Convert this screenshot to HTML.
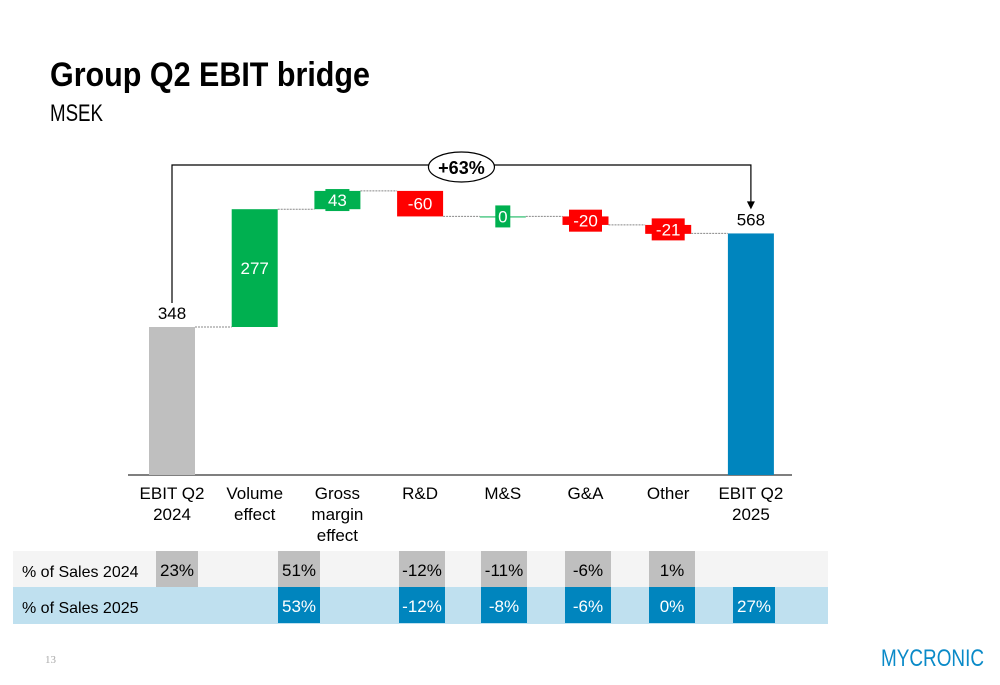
<!DOCTYPE html>
<html><head><meta charset="utf-8"><style>
body{margin:0;background:#fff;}
svg{display:block;font-family:"Liberation Sans Narrow","Liberation Sans",sans-serif;}
</style></head><body>
<svg id="c" width="1000" height="685" viewBox="0 0 1000 685">
<text x="50" y="86" font-family="Liberation Sans, sans-serif" font-weight="bold" font-size="34" textLength="320" lengthAdjust="spacingAndGlyphs">Group Q2 EBIT bridge</text>
<text x="50" y="121" font-size="24" textLength="53" lengthAdjust="spacingAndGlyphs">MSEK</text>
<g id="plot"></g>
<g id="table"></g>
<text x="45" y="663" font-size="11" fill="#aaa" font-family="Liberation Serif, serif">13</text>
<text x="984" y="666" text-anchor="end" font-size="24" fill="#0a8ac8" textLength="103" lengthAdjust="spacingAndGlyphs">MYCRONIC</text>
</svg>
<script>
const categories=[["EBIT Q2","2024"],["Volume","effect"],["Gross","margin","effect"],["R&D"],["M&S"],["G&A"],["Other"],["EBIT Q2","2025"]];
const values=[348,277,43,-60,0,-20,-21,568];
const totalFlags=[true,false,false,false,false,false,false,true];
const sales2024=["23%",null,"51%","-12%","-11%","-6%","1%",null];
const sales2025=[null,null,"53%","-12%","-8%","-6%","0%","27%"];
const growthLabel="+63%";
const NS="http://www.w3.org/2000/svg";
function mk(t,a,p){const e=document.createElementNS(NS,t);for(const k in a)e.setAttribute(k,a[k]);p.appendChild(e);return e;}
const base=475,scale=148/348;
const y=v=>base-v*scale;
const x0=172,step=82.7,bw=46;
const xc=i=>x0+i*step;
const plot=document.getElementById('plot'),table=document.getElementById('table');
// axis
let ax=mk('line',{x1:128,x2:792,y1:base,y2:base,stroke:'#555','stroke-width':1.5},plot);


let cum=0,prevTop=null;
values.forEach((v,i)=>{
  let lo,hi,color;
  if(totalFlags[i]){lo=0;hi=(i===0?v:cum);if(i>0)hi=v;color=i===0?'#bfbfbf':'#0085be';cum=(i===0?v:cum);}
  else{lo=Math.min(cum,cum+v);hi=Math.max(cum,cum+v);color=v>=0?'#00b050':'#ff0000';}
  const top=y(hi),bot=y(lo);
  const g=mk('g',{},plot);
  
  
  mk('rect',{x:xc(i)-bw/2,y:top,width:bw,height:Math.max(bot-top,1),fill:color},g);
  const isTot=totalFlags[i];
  const small=!isTot&&(bot-top)<20;
  const mid=(top+bot)/2;
  if(isTot){
    mk('text',{x:xc(i),y:top-8,'text-anchor':'middle','font-size':17,fill:'#000'},g).textContent=v;
  }else if(small){
    const w=String(v).length*9+6;
    mk('rect',{x:xc(i)-w/2,y:mid-11,width:w,height:22,fill:color},g);
    mk('text',{x:xc(i),y:mid+6,'text-anchor':'middle','font-size':17,fill:'#fff'},g).textContent=v;
  }else{
    mk('text',{x:xc(i),y:mid+6,'text-anchor':'middle','font-size':17,fill:'#fff'},g).textContent=v;
  }
  // connector
  if(i>0){
    const cy=y(totalFlags[i]?v:cum);
    const c=mk('line',{x1:xc(i-1)+bw/2,x2:xc(i)-bw/2,y1:cy,y2:cy,stroke:'#888','stroke-width':1,'stroke-dasharray':'2,1'},plot);
    
    
  }
  if(!isTot)cum+=v;
  // category label
  const lines=categories[i];
  const t=mk('text',{x:xc(i),y:499,'text-anchor':'middle','font-size':17,fill:'#000'},plot);
  
  
  lines.forEach((l,k)=>{mk('tspan',{x:xc(i),dy:k?21:0},t).textContent=l;});
});
// growth bracket
const by=165,l=xc(0),r=xc(values.length-1);
const br=mk('path',{d:`M${l},${y(values[0])-24} V${by} H${r} V${y(values[values.length-1])-30}`,fill:'none',stroke:'#000','stroke-width':1.2},plot);


mk('polygon',{points:`${r-4},${y(values[7])-32} ${r+4},${y(values[7])-32} ${r},${y(values[7])-24}`,fill:'#000'},plot);
const oc=(l+r)/2;
const ov=mk('ellipse',{cx:oc,cy:by+2,rx:33,ry:15,fill:'#fff',stroke:'#000','stroke-width':1.2},plot);


mk('text',{x:oc,y:by+9,'text-anchor':'middle','font-size':18,'font-weight':'bold',fill:'#000'},plot).textContent=growthLabel;
// table
mk('rect',{x:13,y:551,width:815,height:36,fill:'#f4f4f4'},table);
mk('rect',{x:13,y:587,width:815,height:37,fill:'#bfe0ef'},table);
mk('text',{x:22,y:577,'font-size':16},table).textContent='% of Sales 2024';
mk('text',{x:22,y:613,'font-size':16},table).textContent='% of Sales 2025';
const cellX=[177,null,299,422,504,588,672,754];
[[sales2024,551,'#bfbfbf','#000'],[sales2025,587,'#0085be','#fff']].forEach(([arr,ry,bg,fg])=>{
  arr.forEach((s,i)=>{
    if(s===null)return;
    const cx=cellX[i]??xc(i);
    const w=i>=3&&i<=6?46:42;
    const g=mk('g',{},table);
    
    
    mk('rect',{x:cx-w/2,y:ry,width:w,height:36,fill:bg},g);
    mk('text',{x:cx,y:ry+25,'text-anchor':'middle','font-size':17,fill:fg},g).textContent=s;
  });
});
</script>
</body></html>
